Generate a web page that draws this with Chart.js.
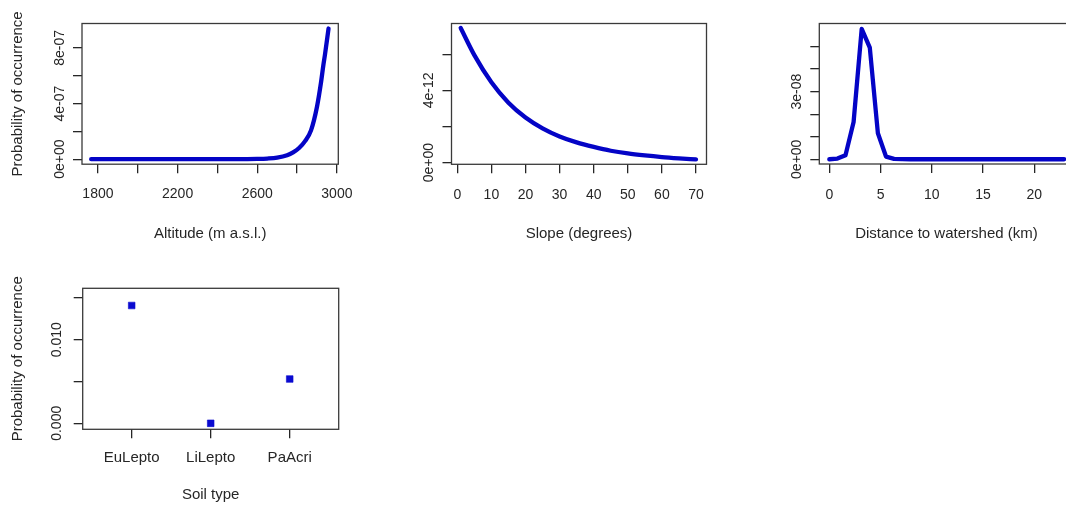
<!DOCTYPE html>
<html>
<head>
<meta charset="utf-8">
<script src="https://cdn.jsdelivr.net/npm/chart.js@4.4.1/dist/chart.umd.min.js"></script>
<style>
  html, body { margin: 0; padding: 0; background: #fff; overflow: hidden; width: 1066px; height: 507px; }
  canvas { position: absolute; }
</style>
</head>
<body>
<canvas id="pAlt"   width="355" height="250" style="left:0px;top:0px"></canvas>
<canvas id="pSlope" width="355" height="250" style="left:369px;top:0px"></canvas>
<canvas id="pDist"  width="360" height="250" style="left:738px;top:0px"></canvas>
<canvas id="pSoil"  width="355" height="242" style="left:0px;top:265px"></canvas>
<script>
// ---- Response curve: altitude ----
const altitude = [1766, 1850, 1950, 2050, 2150, 2250, 2350, 2450, 2550, 2600, 2650, 2700, 2750, 2780, 2810, 2840, 2870, 2900, 2920, 2932, 2940, 2958];
const altProb  = [0, 0, 0, 0, 0, 0, 0, 0, 0.008e-7, 0.02e-7, 0.047e-7, 0.11e-7, 0.28e-7, 0.49e-7, 0.80e-7, 1.30e-7, 2.07e-7, 3.77e-7, 5.5e-7, 6.76e-7, 7.5e-7, 9.39e-7];
const altXTicks  = [1800, 2000, 2200, 2400, 2600, 2800, 3000];
const altXLabels = ['1800', '', '2200', '', '2600', '', '3000'];
const altYTicks  = [0, 2e-7, 4e-7, 6e-7, 8e-7];
const altYLabels = ['0e+00', '', '4e-07', '', '8e-07'];

// ---- Response curve: slope ----
const slope     = [1, 5, 10, 15, 20, 25, 30, 35, 40, 45, 50, 55, 60, 65, 70];
const slopeProb = [7.45e-12, 5.95e-12, 4.45e-12, 3.32e-12, 2.50e-12, 1.90e-12, 1.45e-12, 1.12e-12, 0.87e-12, 0.66e-12, 0.51e-12, 0.40e-12, 0.31e-12, 0.24e-12, 0.18e-12];
const slopeXTicks  = [0, 10, 20, 30, 40, 50, 60, 70];
const slopeXLabels = ['0', '10', '20', '30', '40', '50', '60', '70'];
const slopeYTicks  = [0, 2e-12, 4e-12, 6e-12];
const slopeYLabels = ['0e+00', '', '4e-12', ''];

// ---- Response curve: distance to watershed ----
const distance = [0, 0.79, 1.58, 2.37, 3.16, 3.95, 4.74, 5.53, 6.32, 7.11, 7.9, 8.69, 9.48, 10.27, 11.06, 11.85, 12.64, 13.43, 14.22, 15.01, 15.8, 16.59, 17.38, 18.17, 18.96, 19.75, 20.54, 21.33, 22.12, 22.91];
const distProb = [0, 0.03e-8, 0.18e-8, 1.65e-8, 5.78e-8, 4.95e-8, 1.15e-8, 0.12e-8, 0.02e-8, 0.004e-8, 0, 0, 0, 0, 0, 0, 0, 0, 0, 0, 0, 0, 0, 0, 0, 0, 0, 0, 0, 0];
const distXTicks  = [0, 5, 10, 15, 20];
const distXLabels = ['0', '5', '10', '15', '20'];
const distYTicks  = [0, 1e-8, 2e-8, 3e-8, 4e-8, 5e-8];
const distYLabels = ['0e+00', '', '', '3e-08', '', ''];

// ---- Soil type (factor) ----
const soilTypes = ['EuLepto', 'LiLepto', 'PaAcri'];
const soilProb  = [0.0141, 0.0, 0.0053];
const soilYTicks  = [0, 0.005, 0.010, 0.015];
const soilYLabels = ['0.000', '', '0.010', ''];

const FAMILY = "'Liberation Sans', Arial, Helvetica, sans-serif";
const INK = '#262626';
const CURVE = '#0404c6';
const Y_TITLE = 'Probability of occurrence';

// plot frame drawn around the plotting region
const frame = {
  id: 'frame',
  afterDatasetsDraw(chart) {
    const { ctx, chartArea: a } = chart;
    ctx.save();
    ctx.strokeStyle = '#3a3a3a';
    ctx.lineWidth = 1.3;
    ctx.strokeRect(a.left, a.top, a.right - a.left, a.bottom - a.top);
    ctx.restore();
  }
};

function axisGrid() {
  return { display: true, drawOnChartArea: false, drawTicks: true, tickLength: 9, tickColor: INK, tickWidth: 1.3, lineWidth: 1.3, color: INK };
}

function makePanel(id, g) {
  const dataset = g.points
    ? { data: g.xs.map((x, i) => ({ x, y: g.ys[i] })), showLine: false, pointStyle: 'rect', pointRadius: 4.7,
        pointBackgroundColor: '#0a0ad0', pointBorderColor: '#0a0ad0', pointBorderWidth: 0.6 }
    : { data: g.xs.map((x, i) => ({ x, y: g.ys[i] })), borderColor: CURVE, borderWidth: 4.3, pointRadius: 0,
        borderCapStyle: 'round', borderJoinStyle: 'round', fill: false,
        tension: g.smooth ? 0.4 : 0, cubicInterpolationMode: g.smooth ? 'monotone' : 'default' };

  new Chart(document.getElementById(id), {
    type: g.points ? 'scatter' : 'line',
    data: { datasets: [dataset] },
    options: {
      responsive: false,
      animation: false,
      devicePixelRatio: 1,
      layout: { padding: { left: 0, top: g.padTop, right: g.padRight, bottom: g.padBottom } },
      plugins: { legend: { display: false }, tooltip: { enabled: false } },
      scales: {
        x: {
          type: 'linear', min: g.xMin, max: g.xMax,
          afterBuildTicks: s => { s.ticks = g.xTicks.map(v => ({ value: v })); },
          afterFit: s => { s.height = g.xAxisH; s.paddingLeft = 0; s.paddingRight = 0; },
          border: { display: false },
          grid: axisGrid(),
          ticks: { autoSkip: false, maxRotation: 0, minRotation: 0, padding: g.xTickPad, color: INK,
                   font: { family: FAMILY, size: g.xTickSize }, callback: (v, i) => g.xLabels[i] },
          title: { display: true, text: g.xTitle, color: INK, font: { family: FAMILY, size: 15 },
                   padding: { top: 0, bottom: g.xTitlePad } }
        },
        y: {
          type: 'linear', min: g.yMin, max: g.yMax,
          afterBuildTicks: s => { s.ticks = g.yTicks.map(v => ({ value: v })); },
          afterFit: s => { s.width = g.yAxisW; s.paddingTop = 0; s.paddingBottom = 0; },
          border: { display: false },
          grid: axisGrid(),
          ticks: { autoSkip: false, minRotation: 90, maxRotation: 90, crossAlign: 'center', padding: g.yTickPad,
                   color: INK, font: { family: FAMILY, size: 14 }, callback: (v, i) => g.yLabels[i] },
          title: { display: !!g.yTitle, text: g.yTitle || '', color: INK, font: { family: FAMILY, size: 15 },
                   padding: { top: 8.5, bottom: 0 } }
        }
      }
    },
    plugins: [frame]
  });
}

makePanel('pAlt', {
  xs: altitude, ys: altProb, smooth: true,
  xMin: 1720, xMax: 3007, yMin: -0.36e-7, yMax: 9.75e-7,
  xTicks: altXTicks, xLabels: altXLabels, yTicks: altYTicks, yLabels: altYLabels,
  xTitle: 'Altitude (m a.s.l.)', yTitle: Y_TITLE,
  padTop: 23.5, padRight: 16.7, padBottom: 5.8, xAxisH: 80, yAxisW: 82,
  xTickPad: 12.8, xTickSize: 14, xTitlePad: 1.3, yTickPad: -6.6
});

makePanel('pSlope', {
  xs: slope, ys: slopeProb, smooth: true,
  xMin: -1.70, xMax: 73.08, yMin: -0.09e-12, yMax: 7.70e-12,
  xTicks: slopeXTicks, xLabels: slopeXLabels, yTicks: slopeYTicks, yLabels: slopeYLabels,
  xTitle: 'Slope (degrees)',
  padTop: 23.5, padRight: 17.5, padBottom: 5.7, xAxisH: 80, yAxisW: 82.5,
  xTickPad: 13.3, xTickSize: 14, xTitlePad: 1.2, yTickPad: -6.6
});

makePanel('pDist', {
  xs: distance, ys: distProb, smooth: false,
  xMin: -0.976, xMax: 23.83, yMin: -0.21e-8, yMax: 6.02e-8,
  xTicks: distXTicks, xLabels: distXLabels, yTicks: distYTicks, yLabels: distYLabels,
  xTitle: 'Distance to watershed (km)',
  padTop: 23.5, padRight: 24.4, padBottom: 6, xAxisH: 80, yAxisW: 81.3,
  xTickPad: 13.3, xTickSize: 14, xTitlePad: 1.1, yTickPad: -6.6
});

makePanel('pSoil', {
  xs: [1, 2, 3], ys: soilProb, points: true,
  xMin: 0.38, xMax: 3.62, yMin: -0.000718, yMax: 0.01616,
  xTicks: [1, 2, 3], xLabels: soilTypes, yTicks: soilYTicks, yLabels: soilYLabels,
  xTitle: 'Soil type', yTitle: Y_TITLE,
  padTop: 23.3, padRight: 16.3, padBottom: 2.7, xAxisH: 75, yAxisW: 82.7,
  xTickPad: 10.7, xTickSize: 15, xTitlePad: 0, yTickPad: -0.8
});
</script>
</body>
</html>
